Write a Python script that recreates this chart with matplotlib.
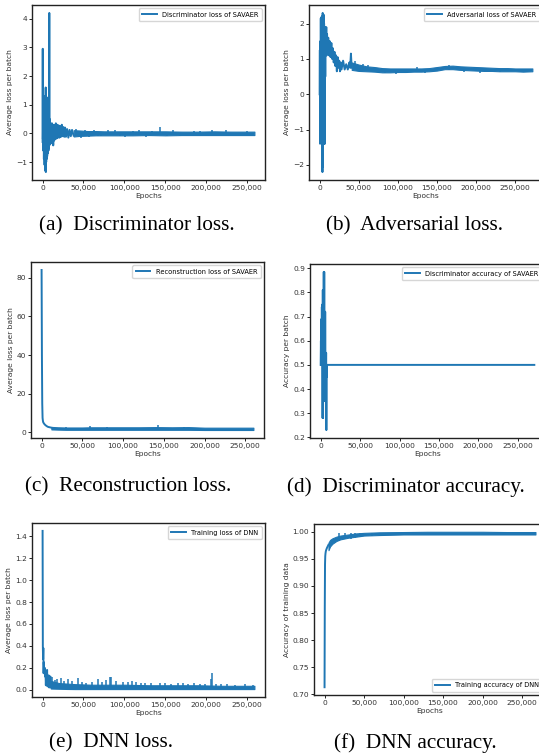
import numpy as np
import matplotlib
matplotlib.use("Agg")
import matplotlib.pyplot as plt
from matplotlib.ticker import FuncFormatter

BLUE = "#1f77b4"

# (a) discriminator loss
disc_loss_x = [0, 200, 400, 600, 800, 1000, 1200, 1400, 1600, 1800, 2000, 2200, 2400, 2600, 2800,
               3000, 3200, 3400, 3600, 3800, 4000, 4200, 4400, 4600, 4800, 5000, 5200, 5400, 5600,
               5800, 6000, 6200, 6400, 6600, 6800, 7000, 7200, 7400, 7600, 7800, 8000, 8200, 8400,
               8600, 8800, 9000, 9400, 9800, 10200, 10600, 11000, 11500, 12000, 12500, 13000, 13600,
               14200, 14800, 15500, 16200, 17000, 17800, 18600, 19500, 20500, 21500, 22500, 23500,
               24500, 25500, 26500, 27500, 28500, 30000, 31500, 33000, 34500, 36000, 38000]
disc_loss_y = [-0.3, 2.95, -0.2, 0.5, -0.6, 1.3, -0.4, 1.3, -0.9, 0.8, -0.7, 1.0, -1.1, 0.9, -0.8,
               0.9, -1.3, 1.1, -0.9, 1.6, -1.35, 1.2, -1.0, 1.0, -0.9, 1.1, -0.7, 1.0, -0.8,
               1.2, -0.6, 1.0, -0.7, 1.25, -0.5, 1.1, -0.6, 0.9, -0.5, 0.6, -0.4, 4.2, -0.3,
               0.5, -0.4, 0.45, -0.3, 0.35, -0.35, 0.3, -0.25, 0.35, -0.3, 0.25, -0.42, 0.3,
               -0.25, 0.28, -0.2, 0.35, -0.18, 0.3, -0.15, 0.28, -0.15, 0.25, -0.12, 0.3,
               -0.1, 0.22, -0.12, 0.2, -0.12, 0.15, -0.15, 0.12, -0.1, 0.12, -0.08]
disc_band_x = [38000, 45000, 55000, 65000, 75000, 90000, 110000, 130000, 150000, 170000, 190000,
               210000, 230000, 250000, 259000]
disc_band_lo = [-0.11, -0.09, -0.08, -0.07, -0.07, -0.07, -0.07, -0.06, -0.07, -0.06, -0.06,
                -0.06, -0.06, -0.06, -0.06]
disc_band_hi = [0.11, 0.1, 0.08, 0.08, 0.07, 0.07, 0.07, 0.07, 0.07, 0.06, 0.06,
                0.07, 0.06, 0.06, 0.06]
disc_spike_x = [41000, 44000, 47000, 52000, 57000, 63000, 68000, 72000, 80000, 88000, 95000, 101000,
                110000, 118000, 126000, 134000, 143000, 152000, 160000, 168000, 176000, 185000,
                193000, 200000, 207000, 216000, 224000, 233000, 241000, 250000]
disc_spike_y = [0.16, -0.14, -0.15, 0.13, -0.12, 0.11, -0.1, -0.1, 0.1, 0.1, -0.1, -0.11,
                0.09, 0.1, -0.14, 0.09, 0.22, -0.09, 0.1, -0.09, -0.1, 0.08,
                0.09, -0.09, 0.12, -0.08, 0.1, -0.08, -0.09, 0.08]

# (b) adversarial loss
adv_loss_x = [0, 300, 600, 900, 1200, 1500, 1800, 2100, 2400, 2700, 3000, 3300, 3600, 3900, 4200,
              4500, 4800, 5100, 5400, 5700, 6000, 6300, 6600, 6900, 7200, 7500,
              8000, 8500, 9000, 9500, 10000,
              11000, 12000, 13000, 14000, 15000, 16000, 17000, 18000, 19000, 20000, 21000, 22000,
              23000, 24000, 25000, 26000, 27000, 28000,
              30000, 32000, 34000, 36000, 38000, 39000, 40000, 41000]
adv_loss_y = [0.0, 1.25, -1.4, 1.5, -0.9, 2.15, -1.15, 2.1, -1.2, 2.2, -1.5, 1.8, -2.2, 2.3, -2.05,
              2.0, -1.0, 2.25, -1.4, 2.0, -1.4, 1.6, -1.4, 1.9, 0.5, 1.8,
              1.1, 1.9, 1.1, 1.7, 1.15,
              1.6, 1.1, 1.5, 1.05, 1.45, 1.0, 1.3, 0.9, 1.2, 0.8, 1.1, 0.65,
              1.05, 0.75, 0.95, 0.65, 0.9, 0.7,
              0.95, 0.7, 0.85, 0.7, 0.9, 0.75, 1.15, 0.75]
adv_band_x = [41000, 50000, 60000, 70000, 80000, 90000, 100000, 110000, 120000, 130000, 140000,
              150000, 160000, 170000, 180000, 190000, 200000, 210000, 220000, 230000, 240000,
              250000, 260000, 272000]
adv_band_lo = [0.69, 0.66, 0.65, 0.64, 0.62, 0.62, 0.63, 0.63, 0.64, 0.64, 0.65,
               0.67, 0.71, 0.71, 0.69, 0.68, 0.67, 0.66, 0.66, 0.65, 0.65, 0.65, 0.64, 0.65]
adv_band_hi = [0.9, 0.84, 0.79, 0.77, 0.74, 0.73, 0.73, 0.73, 0.73, 0.73, 0.74,
               0.77, 0.8, 0.81, 0.79, 0.78, 0.77, 0.76, 0.75, 0.74, 0.74, 0.73, 0.73, 0.73]
adv_spike_x = [45000, 55000, 62000, 83000, 98000, 112000, 124000, 135000, 165000, 185000, 205000,
               230000]
adv_spike_y = [0.95, 0.87, 0.82, 0.59, 0.58, 0.59, 0.78, 0.59, 0.83, 0.62, 0.6, 0.62]

# (c) reconstruction loss
recon_x = [0, 400, 800, 1200, 1600, 2000, 3000, 4000, 5000, 6000, 7000, 8000, 10000, 12000]
recon_y = [84, 40, 15, 7.5, 6.0, 5.2, 4.5, 4.0, 3.6, 3.3, 3.0, 2.8, 2.6, 2.4]
recon_band_x = [12000, 20000, 30000, 40000, 50000, 60000, 80000, 100000, 120000, 140000, 160000,
                180000, 200000, 220000, 240000, 260000]
recon_band_lo = [1.5, 1.4, 1.3, 1.3, 1.3, 1.3, 1.3, 1.3, 1.3, 1.3, 1.3, 1.3, 1.2, 1.2, 1.2, 1.2]
recon_band_hi = [2.8, 2.6, 2.5, 2.5, 2.5, 2.6, 2.6, 2.6, 2.6, 2.7, 2.6, 2.7, 2.4, 2.4, 2.4, 2.4]
recon_spike_x = [30000, 60000, 80000, 143000, 175000]
recon_spike_y = [2.9, 3.2, 3.0, 3.9, 2.9]

# (d) discriminator accuracy
disc_acc_x = [0, 300, 600, 900, 1200, 1500, 1800, 2100, 2400, 2700, 3000, 3300, 3600, 3900, 4200,
              4500, 4800, 5100, 5400, 5700, 6000, 6300, 6600, 6900, 7200, 7500, 7800, 8100, 271000]
disc_acc_y = [0.5, 0.6, 0.5, 0.69, 0.55, 0.74, 0.5, 0.75, 0.28, 0.81, 0.28, 0.75, 0.5, 0.885, 0.35,
              0.885, 0.4, 0.72, 0.35, 0.72, 0.45, 0.55, 0.35, 0.55, 0.23, 0.5, 0.45, 0.5, 0.5]

# (e) DNN loss
dnn_loss_x = [0, 300, 600, 900, 1200, 1500, 2000, 2500, 3000, 3500, 4000, 4500, 5000, 5500, 6000,
              6500, 7000, 7500, 8000, 8500, 9000, 9500, 10000]
dnn_loss_y = [1.45, 0.4, 0.28, 0.38, 0.15, 0.25, 0.16, 0.2, 0.12, 0.17, 0.04, 0.16, 0.05, 0.18,
              0.03, 0.12, 0.04, 0.13, 0.02, 0.1, 0.03, 0.12, 0.02]
dnn_band_x = [10000, 20000, 30000, 40000, 60000, 80000, 100000, 130000, 160000, 190000, 220000,
              259000]
dnn_band_lo = [0.01, 0.008, 0.006, 0.005, 0.005, 0.005, 0.005, 0.005, 0.005, 0.005, 0.005, 0.005]
dnn_band_hi = [0.08, 0.06, 0.055, 0.05, 0.045, 0.045, 0.045, 0.04, 0.04, 0.04, 0.035, 0.035]
dnn_spike_x = [12000, 15000, 18000, 22000, 26000, 31000, 36000, 43000, 48000, 53000, 60000, 68000,
               73000, 77000, 82000, 84000, 90000, 98000, 104000, 109000, 114000, 120000, 125000,
               132000, 143000, 150000, 157000, 165000, 172000, 178000, 185000, 192000, 198000,
               206000, 207000, 212000, 218000, 225000, 235000, 247000, 257000]
dnn_spike_y = [0.12, 0.09, 0.1, 0.11, 0.08, 0.1, 0.08, 0.11, 0.07, 0.06, 0.07, 0.1,
               0.07, 0.09, 0.12, 0.12, 0.08, 0.07, 0.07, 0.08, 0.07, 0.06, 0.06,
               0.06, 0.06, 0.06, 0.05, 0.06, 0.06, 0.05, 0.06, 0.05, 0.05,
               0.1, 0.15, 0.05, 0.05, 0.05, 0.045, 0.05, 0.045]

# (f) DNN accuracy
dnn_acc_x = [0, 300, 600, 900, 1200, 1600, 2000, 3000, 4000, 5000]
dnn_acc_y = [0.713, 0.86, 0.94, 0.955, 0.96, 0.964, 0.966, 0.97, 0.973, 0.976]
acc_band_x = [5000, 7000, 10000, 15000, 20000, 30000, 40000, 50000, 70000, 100000, 130000, 160000,
              200000, 230000, 267000]
acc_band_lo = [0.966, 0.973, 0.978, 0.983, 0.986, 0.989, 0.991, 0.993, 0.994, 0.995, 0.995, 0.995,
               0.995, 0.995, 0.995]
acc_band_hi = [0.98, 0.985, 0.988, 0.991, 0.993, 0.995, 0.997, 0.998, 0.999, 0.9995, 1.0, 1.0,
               1.0, 0.9995, 0.9995]
acc_spike_x = [18000, 26000, 33000, 38000, 45000, 60000]
acc_spike_y = [0.983, 0.986, 0.987, 0.989, 0.991, 0.993]

ylabels = ["Average loss per batch", "Average loss per batch", "Average loss per batch",
           "Accuracy per batch", "Average loss per batch", "Accuracy of training data"]
legend_labels = ["Discriminator loss of SAVAER", "Adversarial loss of SAVAER",
                 "Reconstruction loss of SAVAER", "Discriminator accuracy of SAVAER",
                 "Training loss of DNN", "Training accuracy of DNN"]
captions = ["(a)  Discriminator loss.", "(b)  Adversarial loss.", "(c)  Reconstruction loss.",
            "(d)  Discriminator accuracy.", "(e)  DNN loss.", "(f)  DNN accuracy."]

W, H = 539, 756
# axes boxes in pixels: left, right, top, bottom
boxes = [(32, 265, 5, 180), (309, 543, 5, 180),
         (31, 264, 262, 438), (310, 545, 264, 438),
         (32, 265, 523, 697), (314, 546, 524, 695)]
caption_pos = [(137, 226), (414, 226), (128, 487), (406, 487), (111, 743), (415, 743)]

FS = 5.4
LEG_FS = 4.8

fig = plt.figure(figsize=(W / 100, H / 100), dpi=100)


def add_axes(box):
    l, r, t, b = box
    return fig.add_axes([l / W, 1 - b / H, (r - l) / W, (b - t) / H])


def style(ax, ylabel, loc):
    ax.set_xlabel("Epochs", fontsize=FS, labelpad=1.5, color="#333333")
    ax.set_ylabel(ylabel, fontsize=FS, labelpad=2, color="#333333")
    ax.tick_params(labelsize=FS, length=2, width=0.6, pad=1.5, labelcolor="#333333")
    ax.xaxis.set_major_formatter(FuncFormatter(lambda v, p: f"{v:,.0f}"))
    for s in ax.spines.values():
        s.set_linewidth(1.0)
        s.set_color("#222222")
    ax.legend(loc=loc, fontsize=LEG_FS, handlelength=2.2, borderpad=0.5, framealpha=0.8)


series = [
    (disc_loss_x, disc_loss_y, disc_band_x, disc_band_lo, disc_band_hi, disc_spike_x, disc_spike_y, 0.0),
    (adv_loss_x, adv_loss_y, adv_band_x, adv_band_lo, adv_band_hi, adv_spike_x, adv_spike_y, 0.7),
    (recon_x, recon_y, recon_band_x, recon_band_lo, recon_band_hi, recon_spike_x, recon_spike_y, 2.0),
    (disc_acc_x, disc_acc_y, None, None, None, None, None, None),
    (dnn_loss_x, dnn_loss_y, dnn_band_x, dnn_band_lo, dnn_band_hi, dnn_spike_x, dnn_spike_y, 0.01),
    (dnn_acc_x, dnn_acc_y, acc_band_x, acc_band_lo, acc_band_hi, acc_spike_x, acc_spike_y, 0.997),
]

for i, (x, y, bx, blo, bhi, sx, sy, base) in enumerate(series):
    ax = add_axes(boxes[i])
    ax.plot(x, y, color=BLUE, lw=1.4, label=legend_labels[i])
    if bx is not None:
        ax.fill_between(bx, blo, bhi, color=BLUE, lw=0.8, edgecolor=BLUE)
        ax.vlines(sx, base, sy, color=BLUE, lw=1.1)
    style(ax, ylabels[i], "lower right" if i == 5 else "upper right")
    cx, cy = caption_pos[i]
    fig.text(cx / W, 1 - cy / H, captions[i], ha="center", va="center",
             fontsize=15.3, family="Liberation Serif")

fig.savefig("out.png", dpi=100)
